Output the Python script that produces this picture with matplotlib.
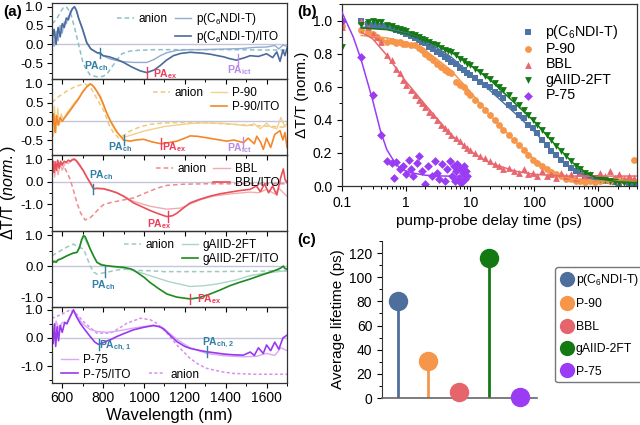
import numpy as np
import matplotlib
matplotlib.use('Agg')
import matplotlib.pyplot as plt
from matplotlib.lines import Line2D
from matplotlib.ticker import MultipleLocator

plt.rcParams['font.family'] = ['Liberation Sans', 'DejaVu Sans']
plt.rcParams['mathtext.fontset'] = 'custom'
plt.rcParams['mathtext.rm'] = 'Liberation Sans'
plt.rcParams['mathtext.it'] = 'Liberation Sans:italic'
plt.rcParams['mathtext.bf'] = 'Liberation Sans:bold'
plt.rcParams['xtick.direction'] = 'out'
plt.rcParams['ytick.direction'] = 'out'

# ---------------- (a) spectra, (wavelength nm, dT/T)
ndi_ito = [(550, 0.1), (560, 0.4), (570, 0.0), (580, 0.45), (590, 0.2), (600, 0.55), (610, 0.45), (620, 0.7),
           (630, 0.65), (640, 0.85), (650, 0.95), (660, 1.0), (670, 0.9), (680, 0.7), (700, 0.4), (720, 0.05),
           (740, -0.12), (770, -0.22), (786, -0.23), (800, -0.3), (830, -0.33), (867, -0.4), (900, -0.48),
           (940, -0.6), (980, -0.7), (1014, -0.75), (1050, -0.68), (1080, -0.56), (1110, -0.42), (1144, -0.3),
           (1180, -0.24), (1226, -0.21), (1280, -0.23), (1324, -0.26), (1360, -0.3), (1389, -0.33), (1420, -0.38),
           (1454, -0.42), (1462, -0.4), (1490, -0.36), (1520, -0.3), (1560, -0.32), (1600, -0.25), (1630, -0.35),
           (1650, -0.2), (1666, -0.45), (1680, -0.15), (1690, -0.3), (1700, -0.1)]
ndi_film = [(550, 0.3), (560, -0.05), (570, 0.35), (580, 0.1), (590, 0.5), (600, 0.3), (610, 0.6), (620, 0.55),
            (630, 0.75), (640, 0.8), (650, 0.95), (660, 1.0), (670, 0.88), (680, 0.7), (700, 0.38), (720, 0.03),
            (740, -0.12), (770, -0.22), (800, -0.3), (830, -0.38), (867, -0.43), (900, -0.46), (950, -0.48),
            (1014, -0.48), (1050, -0.4), (1080, -0.3), (1112, -0.22), (1160, -0.16), (1220, -0.14), (1275, -0.14),
            (1350, -0.13), (1420, -0.12), (1480, -0.11), (1540, -0.08), (1600, -0.07), (1640, -0.03),
            (1660, -0.12), (1680, -0.02), (1700, -0.05)]
ndi_anion = [(550, 0.55), (570, 0.65), (590, 0.85), (605, 0.97), (620, 1.0), (640, 0.85), (660, 0.45), (680, 0.0),
             (700, -0.45), (712, -0.61), (737, -0.82), (770, -0.86), (800, -0.85), (820, -0.78), (843, -0.6),
             (870, -0.4), (892, -0.25), (930, -0.18), (965, -0.16), (1050, -0.14), (1200, -0.14), (1400, -0.14),
             (1600, -0.15), (1700, -0.15)]

p90_ito = [(550, -0.2), (558, 0.2), (565, -0.3), (572, 0.15), (580, -0.1), (590, 0.1), (600, 0.0), (610, 0.08),
           (620, 0.15), (640, 0.3), (660, 0.45), (680, 0.6), (700, 0.78), (720, 0.92), (737, 1.0), (750, 0.95),
           (770, 0.8), (786, 0.66), (800, 0.48), (818, 0.22), (835, 0.02), (851, -0.13), (870, -0.3), (892, -0.44),
           (900, -0.5), (932, -0.53), (960, -0.5), (998, -0.48), (1040, -0.55), (1084, -0.6), (1120, -0.57),
           (1161, -0.53), (1200, -0.45), (1226, -0.39), (1260, -0.4), (1307, -0.44), (1350, -0.48), (1405, -0.53),
           (1440, -0.5), (1487, -0.57), (1510, -0.45), (1540, -0.6), (1552, -0.4), (1570, -0.55), (1584, -0.75),
           (1600, -0.45), (1620, -0.7), (1640, -0.35), (1666, -0.25), (1680, -0.5), (1690, -0.3), (1700, -0.7)]
p90_film = [(550, 0.3), (556, -0.4), (562, 0.4), (570, -0.3), (578, 0.35), (586, -0.1), (595, 0.2), (605, 0.05),
            (620, 0.2), (640, 0.35), (660, 0.5), (680, 0.62), (700, 0.8), (720, 0.93), (740, 1.0), (760, 0.9),
            (786, 0.62), (810, 0.3), (835, 0.0), (860, -0.25), (885, -0.4), (900, -0.43), (930, -0.38),
            (960, -0.33), (1000, -0.26), (1050, -0.2), (1100, -0.14), (1160, -0.1), (1226, -0.06), (1300, -0.04),
            (1380, -0.05), (1440, -0.08), (1500, -0.12), (1540, -0.07), (1570, -0.2), (1600, -0.05), (1620, -0.15),
            (1650, -0.2), (1670, 0.1), (1690, -0.15), (1700, -0.05)]
p90_anion = [(550, 0.5), (580, 0.65), (620, 0.8), (660, 0.92), (700, 0.99), (712, 1.0), (740, 0.9), (770, 0.6),
             (802, 0.3), (830, -0.1), (851, -0.3), (875, -0.44), (900, -0.38), (932, -0.26), (980, -0.15),
             (1030, -0.08), (1112, -0.04), (1200, -0.03), (1300, -0.04), (1400, -0.07), (1500, -0.1),
             (1600, -0.13), (1700, -0.16)]

bbl_ito = [(550, 0.6), (555, 0.9), (560, 0.4), (566, 0.85), (572, 0.5), (578, 0.95), (585, 0.6), (592, 0.9),
           (600, 0.75), (610, 0.9), (620, 0.85), (630, 0.95), (640, 0.9), (650, 0.98), (660, 1.0), (672, 0.9),
           (688, 0.7), (704, 0.48), (720, 0.2), (737, -0.05), (753, -0.33), (770, -0.3), (802, -0.32),
           (835, -0.4), (867, -0.5), (900, -0.65), (949, -0.95), (990, -1.12), (1030, -1.29), (1070, -1.43),
           (1112, -1.56), (1140, -1.52), (1161, -1.41), (1190, -1.2), (1226, -0.95), (1270, -0.8), (1324, -0.65),
           (1370, -0.55), (1422, -0.47), (1470, -0.4), (1519, -0.35), (1550, -0.2), (1570, -0.45), (1590, -0.1),
           (1610, -0.5), (1630, -0.2), (1650, -0.6), (1670, 0.2), (1682, 0.56), (1690, 0.1), (1700, -0.05)]
bbl_film = [(550, 0.3), (556, 0.8), (563, 0.2), (570, 0.75), (580, 0.3), (590, 0.8), (600, 0.5), (615, 0.85),
            (630, 0.8), (650, 0.95), (665, 0.95), (680, 0.75), (704, 0.45), (737, -0.08), (753, -0.3),
            (802, -0.33), (867, -0.5), (949, -0.88), (1030, -1.1), (1112, -1.23), (1180, -1.18), (1226, -1.0),
            (1280, -0.8), (1340, -0.65), (1422, -0.55), (1519, -0.47), (1560, -0.5), (1600, -0.35), (1640, -0.55),
            (1660, -0.3), (1682, -0.5), (1700, -0.65)]
bbl_anion = [(550, 0.9), (580, 0.85), (610, 0.65), (639, 0.1), (660, -0.55), (672, -0.95), (690, -1.4),
             (712, -1.71), (735, -1.62), (753, -1.48), (780, -1.2), (802, -1.03), (835, -0.94), (867, -0.88),
             (910, -0.8), (949, -0.73), (990, -0.58), (1030, -0.42), (1070, -0.28), (1112, -0.17), (1193, -0.12),
             (1300, -0.1), (1500, -0.1), (1700, -0.1)]

aiid_ito = [(550, 0.1), (560, 0.15), (570, 0.12), (580, 0.2), (590, 0.22), (600, 0.25), (623, 0.33), (640, 0.38),
            (655, 0.42), (672, 0.44), (685, 0.6), (695, 0.85), (704, 0.98), (712, 0.95), (725, 0.75), (737, 0.55),
            (755, 0.3), (770, 0.12), (790, 0.04), (818, 0.01), (860, -0.02), (900, -0.04), (940, -0.1),
            (965, -0.2), (1000, -0.36), (1030, -0.53), (1070, -0.72), (1112, -0.9), (1160, -1.0), (1226, -1.06),
            (1270, -1.02), (1324, -0.9), (1370, -0.78), (1422, -0.63), (1470, -0.52), (1519, -0.42), (1570, -0.3),
            (1617, -0.2), (1650, -0.12), (1670, -0.06), (1682, 0.0), (1690, -0.08), (1700, -0.1)]
aiid_film = [(550, 0.15), (580, 0.2), (623, 0.33), (655, 0.42), (672, 0.44), (704, 0.95), (737, 0.55),
             (770, 0.12), (818, 0.0), (867, -0.04), (940, -0.12), (1030, -0.31), (1120, -0.5), (1226, -0.66),
             (1300, -0.63), (1356, -0.58), (1450, -0.45), (1519, -0.31), (1600, -0.22), (1700, -0.15)]
aiid_anion = [(550, 0.33), (580, 0.45), (620, 0.6), (655, 0.71), (675, 0.62), (704, 0.55), (720, 0.3), (737, 0.0),
              (755, -0.2), (770, -0.26), (800, -0.22), (818, -0.2), (860, -0.14), (900, -0.1), (960, -0.14),
              (1030, -0.15), (1100, -0.18), (1300, -0.18), (1500, -0.17), (1700, -0.15)]

p75_ito = [(550, 0.3), (556, -0.2), (562, 0.5), (568, -0.3), (575, 0.4), (582, -0.1), (590, 0.45), (600, 0.2),
           (612, 0.55), (623, 0.5), (635, 0.7), (645, 0.85), (655, 1.0), (670, 0.75), (688, 0.52), (710, 0.3),
           (737, 0.05), (760, -0.15), (778, -0.23), (800, -0.17), (818, -0.11), (840, -0.05), (867, 0.05),
           (900, 0.15), (949, 0.29), (1000, 0.38), (1047, 0.44), (1075, 0.4), (1096, 0.32), (1130, 0.08),
           (1161, -0.13), (1200, -0.3), (1226, -0.37), (1270, -0.44), (1307, -0.49), (1350, -0.53), (1389, -0.57),
           (1440, -0.6), (1487, -0.61), (1520, -0.5), (1540, -0.62), (1560, -0.35), (1584, -0.55), (1600, -0.25),
           (1620, -0.45), (1640, -0.15), (1660, -0.4), (1680, 0.0), (1700, 0.1)]
p75_film = [(550, 0.5), (560, 0.1), (570, 0.6), (585, 0.3), (600, 0.55), (623, 0.55), (645, 0.85), (655, 0.98),
            (670, 0.8), (700, 0.5), (737, 0.3), (770, 0.23), (818, 0.2), (867, 0.24), (949, 0.35), (1047, 0.46),
            (1090, 0.38), (1161, -0.05), (1226, -0.35), (1307, -0.55), (1389, -0.63), (1487, -0.67), (1550, -0.65),
            (1600, -0.55), (1640, -0.62), (1670, -0.35), (1700, -0.45)]
p75_anion = [(550, 0.7), (600, 0.85), (639, 1.0), (670, 0.85), (704, 0.58), (740, 0.35), (770, 0.17), (835, 0.17),
             (880, 0.35), (916, 0.52), (982, 0.7), (1030, 0.65), (1063, 0.52), (1110, 0.2), (1161, -0.25),
             (1226, -0.73), (1270, -0.95), (1307, -1.08), (1380, -1.2), (1438, -1.26), (1550, -1.29), (1700, -1.29)]

# PA markers: (wavelength, value, subscript, label x, label y)
ndi_pa = [(786, -0.23, 'ch', 765, -0.57), (1014, -0.75, 'ex', 1105, -0.78), (1462, -0.4, 'ict', 1470, -0.68)]
p90_pa = [(900, -0.5, 'ch', 885, -0.7), (1084, -0.6, 'ex', 1150, -0.7), (1487, -0.57, 'ict', 1470, -0.72)]
bbl_pa = [(753, -0.33, 'ch', 790, 0.28), (1120, -1.56, 'ex', 1075, -1.9)]
aiid_pa = [(809, -0.17, 'ch', 800, -0.6), (1225, -1.06, 'ex', 1320, -1.08)]
p75_pa = [(778, -0.23, 'ch,1', 860, -0.27), (1307, -0.49, 'ch,2', 1360, -0.17)]

# ---------------- (b) kinetics
delay = [0.1, 0.2, 0.25, 0.3, 0.35, 0.4, 0.5, 0.6, 0.7, 0.8, 0.9, 1.0, 1.2, 1.4, 1.6, 1.8, 2.0, 2.3, 2.6, 3.0,
         3.5, 4, 4.5, 5, 6, 7, 8, 9, 10, 12, 14, 17, 20, 24, 28, 33, 40, 48, 57, 68, 80, 95, 110, 130, 155, 185,
         220, 260, 310, 370, 440, 520, 620, 740, 880, 1050, 1250, 1500, 1800, 2100, 2500, 3000, 3600]
kin_ndi = [np.nan, 1.0, 0.98, 0.975, 0.97, 0.965, 0.965, 0.955, 0.945, 0.935,
           0.93, 0.92, 0.905, 0.895, 0.88, 0.87, 0.865, 0.84, 0.83, 0.81,
           0.8, 0.78, 0.77, 0.75, 0.735, 0.715, 0.7, 0.68, 0.67, 0.65,
           0.63, 0.61, 0.6, 0.57, 0.555, 0.53, 0.49, 0.47, 0.43, 0.41,
           0.37, 0.35, 0.32, 0.28, 0.25, 0.21, 0.19, 0.16, 0.13, 0.11,
           0.09, 0.075, 0.06, 0.05, 0.04, 0.035, 0.03, 0.03, 0.025, 0.02,
           0.03, 0.02, 0.02]
kin_p90 = [0.965, 0.945, 0.93, 0.92, 0.9, 0.88, 0.87, 0.875, 0.865, 0.87,
           0.86, 0.86, 0.855, 0.85, 0.835, 0.82, 0.8, 0.78, 0.76, 0.74,
           0.72, 0.7, 0.69, 0.68, 0.63, 0.61, 0.6, 0.57, 0.55, 0.52,
           0.49, 0.46, 0.43, 0.4, 0.37, 0.34, 0.31, 0.28, 0.25, 0.22,
           0.19, 0.16, 0.14, 0.12, 0.1, 0.085, 0.07, 0.06, 0.045, 0.04,
           0.03, 0.03, 0.025, 0.03, 0.025, 0.03, 0.035, 0.03, 0.04, 0.03,
           0.035, 0.04, 0.16]
kin_bbl = [0.96, 1.0, 0.96, 0.92, 0.9, 0.87, 0.79, 0.76, 0.71, 0.68,
           0.64, 0.61, 0.58, 0.55, 0.52, 0.5, 0.48, 0.45, 0.43, 0.4,
           0.37, 0.35, 0.33, 0.31, 0.29, 0.27, 0.25, 0.23, 0.22, 0.2,
           0.18, 0.17, 0.15, 0.13, 0.12, 0.1, 0.11, 0.09, 0.08, 0.1,
           0.07, 0.08, 0.06, 0.09, 0.06, 0.07, 0.05, 0.08, 0.06, 0.07,
           0.05, 0.08, 0.06, 0.07, 0.05, 0.08, 0.06, 0.09, 0.05, 0.07,
           0.04, 0.06, 0.05]
kin_aiid = [0.84, 0.975, 0.99, 1.0, 0.99, 0.99, 0.975, 0.965, 0.955, 0.95,
            0.94, 0.935, 0.92, 0.91, 0.9, 0.89, 0.885, 0.87, 0.86, 0.85,
            0.835, 0.825, 0.815, 0.81, 0.79, 0.77, 0.755, 0.74, 0.73, 0.71,
            0.69, 0.665, 0.645, 0.62, 0.6, 0.58, 0.55, 0.52, 0.49, 0.46,
            0.43, 0.4, 0.37, 0.34, 0.31, 0.28, 0.24, 0.21, 0.18, 0.15,
            0.12, 0.1, 0.08, 0.065, 0.05, 0.04, 0.035, 0.03, 0.025, 0.02,
            0.02, 0.02, 0.02]
delay_p75 = [0.1, 0.2, 0.3, 0.4, 0.5, 0.6, 0.65, 0.7, 0.8, 0.9, 1.0, 1.1, 1.2, 1.3, 1.5, 1.6, 1.8, 2.0, 2.2, 2.5,
             2.8, 3.0, 3.3, 3.6, 4.0, 4.4, 4.8, 5.2, 5.5, 5.8, 6.0, 6.3, 6.6, 7.0, 7.3, 7.6, 8.0, 8.3, 8.6, 9.0]
kin_p75 = [1.0, 0.78, 0.55, 0.31, 0.15, 0.14, 0.05, 0.145, 0.10, 0.12, 0.07, 0.16, 0.10, 0.06, 0.14, 0.18, 0.09,
           0.01, 0.12, 0.06, 0.15, 0.08, 0.04, 0.13, 0.03, 0.10, 0.15, 0.06, 0.12, 0.03, 0.09, 0.13, 0.05, 0.11,
           0.02, 0.08, 0.12, 0.04, 0.09, 0.06]

# fit curves
fit_ndi = [(0.2, 0.96), (0.5, 0.95), (1, 0.925), (2, 0.88), (5, 0.78), (10, 0.68), (20, 0.58), (50, 0.44),
           (100, 0.33), (200, 0.2), (400, 0.1), (700, 0.05), (1000, 0.035), (2000, 0.025), (4000, 0.02)]
fit_p90 = [(0.2, 0.91), (0.5, 0.895), (1, 0.87), (2, 0.82), (5, 0.7), (10, 0.57), (20, 0.43), (50, 0.27),
           (100, 0.16), (200, 0.08), (400, 0.04), (1000, 0.03), (4000, 0.03)]
fit_bbl = [(0.2, 0.93), (0.3, 0.89), (0.5, 0.79), (0.8, 0.68), (1, 0.63), (2, 0.49), (3, 0.41), (5, 0.31),
           (10, 0.21), (20, 0.14), (50, 0.09), (100, 0.07), (300, 0.06), (1000, 0.06), (4000, 0.06)]
fit_aiid = [(0.2, 0.955), (0.5, 0.945), (1, 0.92), (2, 0.88), (5, 0.81), (10, 0.73), (20, 0.645), (50, 0.5),
            (100, 0.39), (200, 0.26), (400, 0.14), (700, 0.07), (1000, 0.045), (2000, 0.025), (4000, 0.02)]
fit_p75 = [(0.1, 1.05), (0.15, 0.9), (0.2, 0.76), (0.3, 0.52), (0.4, 0.33), (0.5, 0.22), (0.6, 0.17),
           (0.7, 0.13), (0.85, 0.1), (1.2, 0.08), (2, 0.065), (4, 0.06), (10, 0.06)]

# ---------------- (c) average lifetimes
materials = ['p(C$_6$NDI-T)', 'P-90', 'BBL', 'gAIID-2FT', 'P-75']
lifetimes = [80, 31, 5, 116, 1]

col_b = ['#4e74a6', '#f5964a', '#e8676e', '#137a13', '#9b3cf5']
markers_b = ['s', 'o', '^', 'v', 'D']

W, H = 640, 425
fig = plt.figure(figsize=(6.4, 4.25), dpi=100)


def px(x0, y0, x1, y1):
    return [x0 / W, 1 - y1 / H, (x1 - x0) / W, (y1 - y0) / H]


def xy(pairs):
    a = np.array(pairs, dtype=float)
    return a[:, 0], a[:, 1]


rows = [
    dict(name='p(C$_6$NDI-T)', ito=ndi_ito, film=ndi_film, anion=ndi_anion, pa=ndi_pa,
         c=('#4a6b9c', '#93abd0', '#8cc0c8'), ylim=(-0.92, 1.1), yt=[-0.5, 0, 0.5, 1.0], ym=0.25),
    dict(name='P-90', ito=p90_ito, film=p90_film, anion=p90_anion, pa=p90_pa,
         c=('#f5862a', '#f0d08a', '#f0c878'), ylim=(-0.9, 1.13), yt=[-0.5, 0, 0.5, 1.0], ym=0.25),
    dict(name='BBL', ito=bbl_ito, film=bbl_film, anion=bbl_anion, pa=bbl_pa,
         c=('#e8505a', '#f3aab0', '#f08a8a'), ylim=(-2.2, 1.18), yt=[-1, 0, 1], ym=0.5),
    dict(name='gAIID-2FT', ito=aiid_ito, film=aiid_film, anion=aiid_anion, pa=aiid_pa,
         c=('#1f8a1f', '#acd5c8', '#9ccabf'), ylim=(-1.32, 1.13), yt=[-1, 0, 1], ym=0.5),
    dict(name='P-75', ito=p75_ito, film=p75_film, anion=p75_anion, pa=p75_pa,
         c=('#9a38f0', '#dba8f3', '#d890f0'), ylim=(-1.6, 1.1), yt=[-1, 0, 1], ym=0.5),
]
pa_col = {'ch': '#2f7fa6', 'ch,1': '#2f7fa6', 'ch,2': '#2f7fa6', 'ex': '#ee3b5a', 'ict': '#b98ae6'}
tops = [3, 79, 155, 231, 307]

for i, r in enumerate(rows):
    ax = fig.add_axes(px(52, tops[i], 287, tops[i] + 76))
    ax.patch.set_alpha(0)
    ax.axhline(0, color='#c4c4dc', lw=1.0, zorder=0)
    c_ito, c_film, c_an = r['c']
    last = i == 4
    x, y = xy(r['anion'])
    la, = ax.plot(x, y, color=c_an, lw=1.1, ls=(0, (2, 1.5)) if last else (0, (3, 2)), label='anion')
    x, y = xy(r['film'])
    lf, = ax.plot(x, y, color=c_film, lw=1.0, label=r['name'])
    x, y = xy(r['ito'])
    li, = ax.plot(x, y, color=c_ito, lw=1.2, label=r['name'] + '/ITO')
    blank = Line2D([], [], color='none', label=' ')
    if last:
        ax.legend(handles=[lf, li, blank, la], ncol=2, loc='lower left', frameon=False, fontsize=8.5,
                  handlelength=1.4, handletextpad=0.4, columnspacing=1.6, labelspacing=0.2,
                  borderaxespad=0.0, bbox_to_anchor=(0.02, -0.03))
    else:
        ax.legend(handles=[la, blank, lf, li], ncol=2, loc='upper right', frameon=False, fontsize=8.5,
                  handlelength=1.4, handletextpad=0.4, columnspacing=0.6, labelspacing=0.2,
                  borderaxespad=0.25)
    span = r['ylim'][1] - r['ylim'][0]
    for wl, v, lab, tx, ty in r['pa']:
        col = pa_col[lab]
        ax.plot([wl, wl], [v - 0.07 * span, v + 0.07 * span], color=col, lw=1.0)
        ax.text(tx, ty, '$\\mathbf{PA_{%s}}$' % lab, color=col, fontsize=7.5,
                ha='center', va='center')
    ax.set_xlim(550, 1700)
    ax.set_ylim(*r['ylim'])
    ax.set_xticks([600, 800, 1000, 1200, 1400, 1600])
    ax.xaxis.set_minor_locator(MultipleLocator(100))
    ax.set_yticks(r['yt'])
    ax.yaxis.set_minor_locator(MultipleLocator(r['ym']))
    ax.set_yticklabels(['%.1f' % t for t in r['yt']], fontsize=9.5)
    ax.tick_params(length=3.5, width=0.8, pad=2.5)
    ax.tick_params(which='minor', length=2, width=0.7)
    for s in ax.spines.values():
        s.set_linewidth(0.9)
        s.set_color('#333333')
    if last:
        ax.tick_params(axis='x', labelsize=10)
        ax.set_xlabel('Wavelength (nm)', fontsize=12, labelpad=2)
    else:
        ax.tick_params(axis='x', labelbottom=False)

fig.text(0.013, 1 - 193 / H, 'ΔT/T ($\\it{norm.}$)', rotation=90, ha='center', va='center', fontsize=11.5)

# ---------------- (b)
axb = fig.add_axes(px(342, 4, 637, 186))
series = [(kin_ndi, fit_ndi), (kin_p90, fit_p90), (kin_bbl, fit_bbl), (kin_aiid, fit_aiid)]
handles = []
for k, (vals, fit) in enumerate(series):
    h = axb.scatter(delay, vals, marker=markers_b[k], s=24, color=col_b[k], linewidths=0, label=materials[k],
                    zorder=2)
    handles.append(h)
h = axb.scatter(delay_p75, kin_p75, marker='D', s=20, color=col_b[4], linewidths=0, label=materials[4], zorder=2)
handles.append(h)
for k, fit in enumerate([fit_ndi, fit_p90, fit_bbl, fit_aiid, fit_p75]):
    x, y = xy(fit)
    axb.plot(x, y, color=col_b[k], lw=1.1, zorder=3)
axb.set_xscale('log')
axb.set_xlim(0.1, 4000)
axb.set_ylim(0, 1.1)
axb.set_xticks([0.1, 1, 10, 100, 1000])
axb.set_xticklabels(['0.1', '1', '10', '100', '1000'])
axb.set_yticks([0, 0.2, 0.4, 0.6, 0.8, 1.0])
axb.set_yticklabels(['0.0', '0.2', '0.4', '0.6', '0.8', '1.0'])
axb.yaxis.set_minor_locator(MultipleLocator(0.1))
axb.tick_params(labelsize=10, length=3.5, width=0.8)
axb.tick_params(which='minor', length=2, width=0.7)
axb.set_xlabel('pump-probe delay time (ps)', fontsize=11, labelpad=3)
axb.set_ylabel('ΔT/T (norm.)', fontsize=11, labelpad=3)
for s in axb.spines.values():
    s.set_linewidth(0.9)
    s.set_color('#333333')
axb.legend(handles=handles, loc='upper right', frameon=False, fontsize=10.3, handletextpad=0.2,
           labelspacing=0.1, borderaxespad=0.9, markerscale=1.0)

# ---------------- (c)
col_c = ['#4e6f9c', '#f5964a', '#e6646c', '#137a13', '#9b3cf5']
axc = fig.add_axes(px(382, 241, 537, 398))
for k, v in enumerate(lifetimes):
    axc.plot([k, k], [0, v], color=col_c[k], lw=2.0, zorder=2)
    axc.plot(k, v, 'o', ms=14, color=col_c[k], mec='none', clip_on=False, zorder=3)
axc.set_xlim(-0.52, 4.56)
axc.set_ylim(0, 130)
axc.set_xticks([])
axc.set_yticks(range(0, 121, 20))
axc.yaxis.set_minor_locator(MultipleLocator(10))
axc.tick_params(labelsize=10, length=3.5, width=0.8)
axc.tick_params(which='minor', length=2, width=0.7)
axc.spines['top'].set_visible(False)
axc.spines['right'].set_visible(False)
axc.spines['bottom'].set_color('#666666')
axc.spines['bottom'].set_linewidth(1.2)
axc.spines['left'].set_color('#333333')
axc.set_ylabel('Average lifetime (ps)', fontsize=11, labelpad=3)

leg_h = [Line2D([], [], marker='o', ls='none', ms=11, color=col_c[k], mec='none', label=materials[k])
         for k in range(5)]
fig.legend(handles=leg_h, loc='upper left', bbox_to_anchor=(549 / W, 1 - 261 / H), fontsize=8.8,
           frameon=True, fancybox=True, edgecolor='#555555', labelspacing=0.85, handletextpad=0.1,
           handlelength=1.2, borderpad=0.4)

fig.text(3 / W, 1 - 12 / H, '(a)', fontsize=11, fontweight='bold', va='center')
fig.text(297 / W, 1 - 12 / H, '(b)', fontsize=11, fontweight='bold', va='center')
fig.text(297 / W, 1 - 240 / H, '(c)', fontsize=11, fontweight='bold', va='center')

fig.savefig('out.png', dpi=100)
